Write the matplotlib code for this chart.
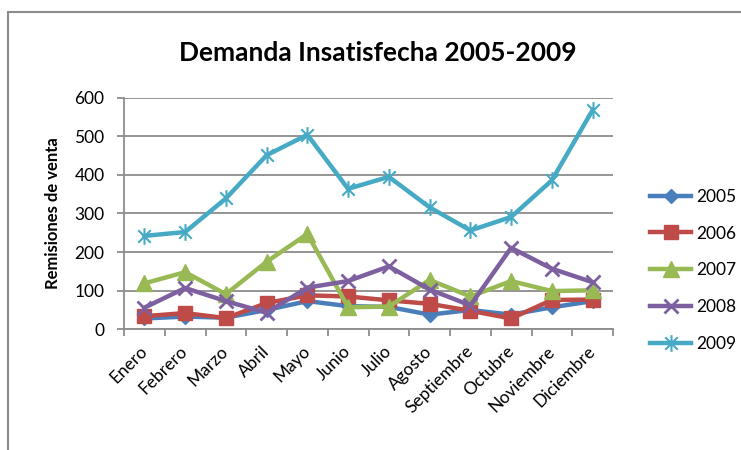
import matplotlib
matplotlib.use("Agg")
import matplotlib.pyplot as plt
from matplotlib.path import Path
from matplotlib.patches import Rectangle

plt.rcParams['font.family'] = ['Lato', 'DejaVu Sans']

months = ["Enero", "Febrero", "Marzo", "Abril", "Mayo", "Junio", "Julio",
          "Agosto", "Septiembre", "Octubre", "Noviembre", "Diciembre"]
s2005 = [28, 33, 30, 50, 73, 60, 58, 38, 50, 38, 57, 73]
s2006 = [34, 42, 29, 68, 88, 85, 75, 66, 48, 28, 76, 77]
s2007 = [119, 148, 91, 175, 247, 57, 59, 128, 85, 125, 99, 101]
s2008 = [56, 107, 73, 43, 108, 125, 163, 103, 62, 211, 157, 122]
s2009 = [242, 252, 339, 451, 504, 364, 395, 316, 256, 291, 386, 568]
series_names = ["2005", "2006", "2007", "2008", "2009"]
yticks = [0, 100, 200, 300, 400, 500, 600]

asterisk = Path([(0, -1), (0, 1), (-0.75, -0.75), (0.75, 0.75), (-0.75, 0.75), (0.75, -0.75)],
                [Path.MOVETO, Path.LINETO, Path.MOVETO, Path.LINETO, Path.MOVETO, Path.LINETO])

styles = [
    dict(color="#4A7EBB", marker="D", ms=7),
    dict(color="#BE4B48", marker="s", ms=10),
    dict(color="#98B954", marker="^", ms=11),
    dict(color="#7D60A0", marker="x", ms=10, mew=2),
    dict(color="#46AAC5", marker=asterisk, ms=12, mew=1.5),
]

fig = plt.figure(figsize=(7.41, 4.5), dpi=100)
ax = fig.add_axes([124/741, 1-329.3/450, 489/741, 231.6/450])

x = list(range(len(months)))
for name, data, st in zip(series_names, [s2005, s2006, s2007, s2008, s2009], styles):
    ax.plot(x, data, color=st["color"], lw=3.2, marker=st["marker"], ms=st["ms"],
            mew=st.get("mew", 1), mfc=st["color"], mec=st["color"], label=name,
            solid_joinstyle="round", zorder=3)

ax.set_xlim(-0.5, 11.5)
ax.set_ylim(0, 600)
ax.set_yticks(yticks)
ax.set_yticklabels([str(v) for v in yticks], fontsize=12.5)
ax.yaxis.grid(True, color="#8C8C8C", lw=1.3)
ax.set_axisbelow(True)
for side in ["top", "right"]:
    ax.spines[side].set_visible(False)
for side in ["left", "bottom"]:
    ax.spines[side].set_color("#8C8C8C")
    ax.spines[side].set_linewidth(1.3)
ax.tick_params(axis="y", length=5, color="#8C8C8C", width=1.3, pad=9)

ax.set_xticks([i - 0.5 for i in range(13)])
ax.set_xticklabels([])
ax.set_xticks(x, minor=True)
ax.set_xticklabels(months, minor=True, rotation=45, ha="right", va="center",
                   rotation_mode="anchor", fontsize=12.5)
ax.tick_params(axis="x", which="major", length=5, color="#8C8C8C", width=1.3)
ax.tick_params(axis="x", which="minor", length=0, pad=14)

ax.set_ylabel("Remisiones de venta", fontsize=12, fontweight="bold", labelpad=10)
fig.text(378/741, 1-53/450, "Demanda Insatisfecha 2005-2009", ha="center", va="center",
         fontsize=19, fontweight="bold")

leg = ax.legend(loc="upper left", bbox_to_anchor=(641/741, 1-180/450), bbox_transform=fig.transFigure,
                frameon=False, fontsize=12.5, handlelength=2.4, labelspacing=1.2,
                handletextpad=0.3, borderpad=0)

fig.patches.append(Rectangle((8/741, -0.1), 1.2, (1-12/450) + 0.1, transform=fig.transFigure,
                             fill=False, edgecolor="#8C8C8C", lw=1.5))
fig.savefig("out.png", dpi=100)
